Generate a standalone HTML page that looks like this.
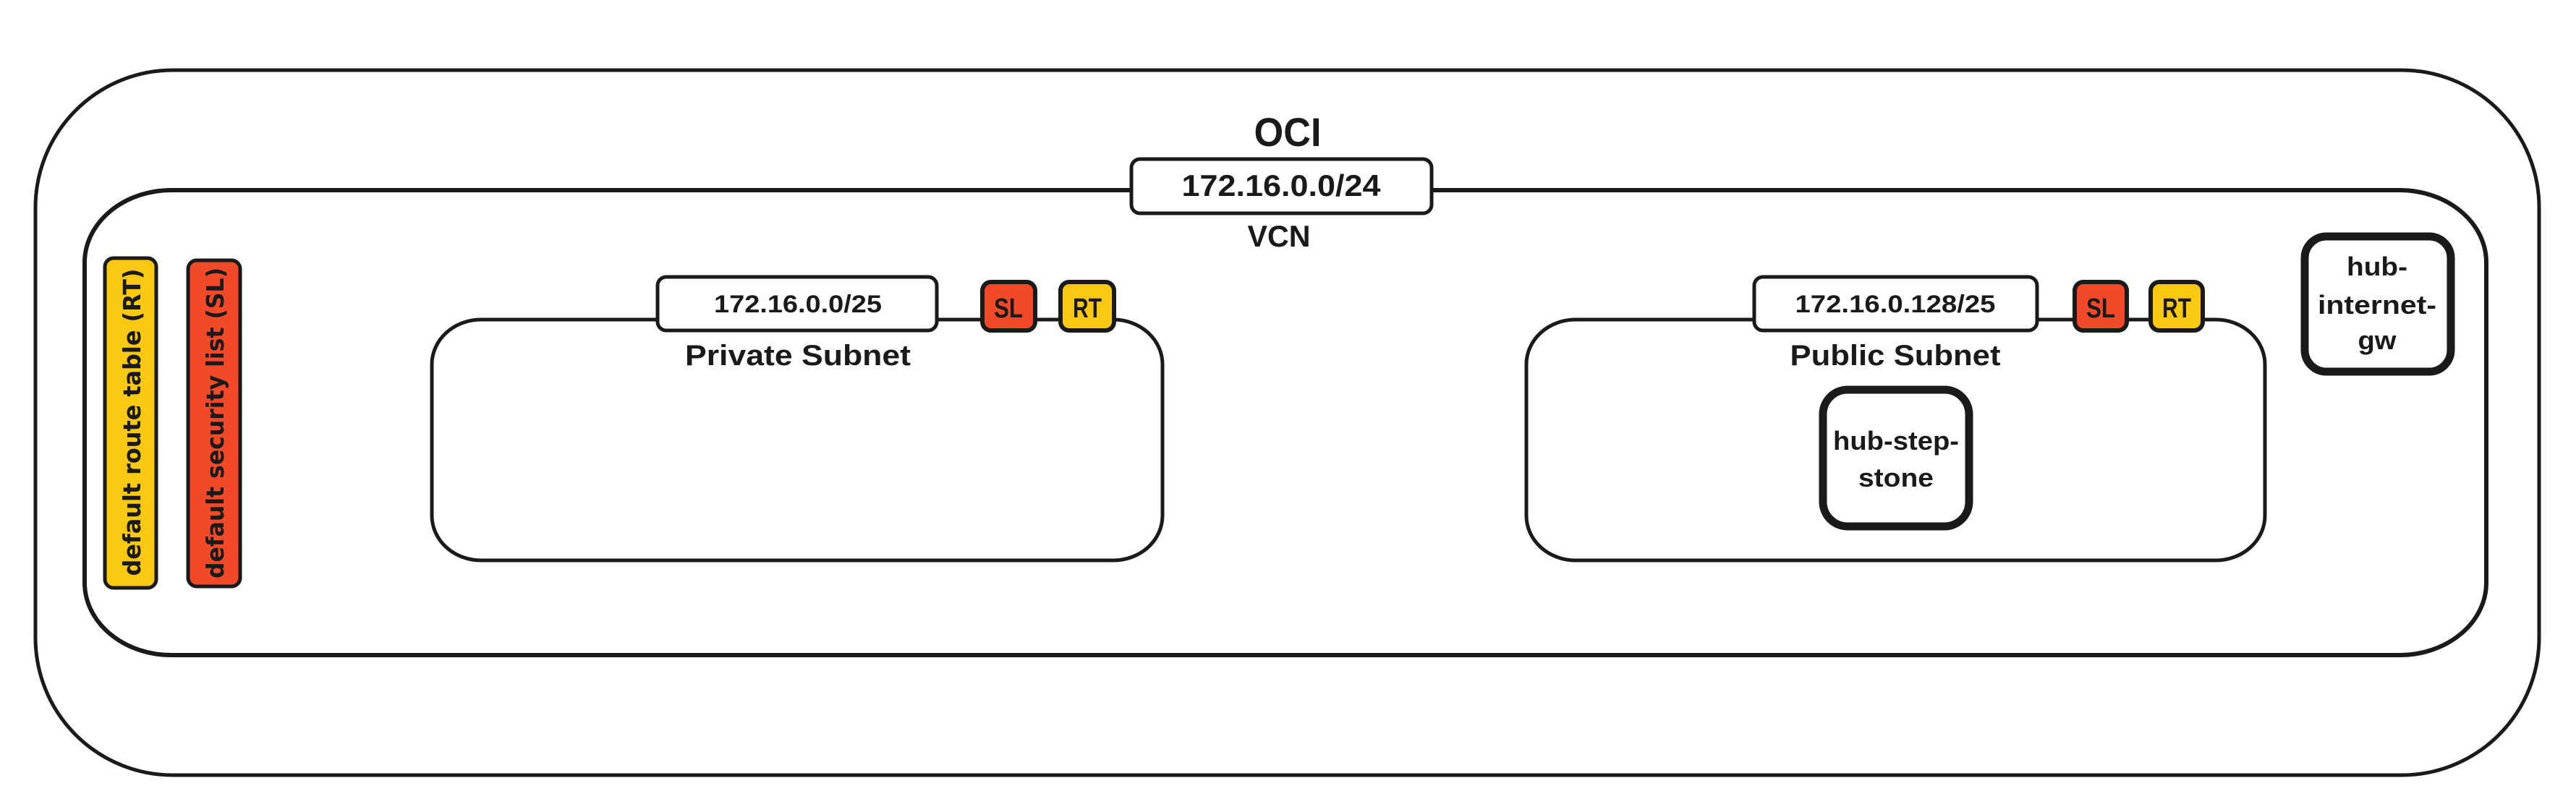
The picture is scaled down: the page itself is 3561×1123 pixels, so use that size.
<!DOCTYPE html>
<html><head><meta charset="utf-8"><style>
html,body{margin:0;padding:0;background:#fff;}
svg{display:block;}
text{font-family:"Liberation Sans",sans-serif;font-weight:bold;fill:#1a1a1a;}
</style></head><body>
<svg width="3561" height="1123" viewBox="0 0 3561 1123" xmlns="http://www.w3.org/2000/svg">
<g fill="none" stroke="#1a1a1a">
<rect x="49" y="97" width="3461" height="975" rx="190" ry="190" stroke-width="5"/>
<rect x="117" y="263" width="3320" height="643" rx="120" ry="100" stroke-width="6"/>
<rect x="597" y="442" width="1010" height="333" rx="68" ry="62" stroke-width="5"/>
<rect x="2110" y="442" width="1021" height="333" rx="68" ry="62" stroke-width="5"/>
</g>
<text x="1780" y="202" font-size="56" text-anchor="middle" textLength="93" lengthAdjust="spacingAndGlyphs">OCI</text>
<rect x="1564" y="220" width="415" height="75" rx="12" fill="#fff" stroke="#1a1a1a" stroke-width="5"/>
<text x="1771" y="271" font-size="42" text-anchor="middle" textLength="275" lengthAdjust="spacingAndGlyphs">172.16.0.0/24</text>
<text x="1768" y="341" font-size="42" text-anchor="middle" textLength="87" lengthAdjust="spacingAndGlyphs">VCN</text>

<!-- private subnet -->
<rect x="909" y="383" width="386" height="74" rx="12" fill="#fff" stroke="#1a1a1a" stroke-width="5"/>
<text x="1103" y="432" font-size="34" text-anchor="middle" textLength="232" lengthAdjust="spacingAndGlyphs">172.16.0.0/25</text>
<text x="1103" y="505" font-size="40" text-anchor="middle" textLength="312" lengthAdjust="spacingAndGlyphs">Private Subnet</text>
<rect x="1358" y="390" width="73" height="67" rx="12" fill="#F24A28" stroke="#1a1a1a" stroke-width="6"/>
<text x="1394" y="439" font-size="38" text-anchor="middle" textLength="40" lengthAdjust="spacingAndGlyphs">SL</text>
<rect x="1466" y="390" width="74" height="67" rx="12" fill="#F9C812" stroke="#1a1a1a" stroke-width="6"/>
<text x="1503" y="439" font-size="38" text-anchor="middle" textLength="40" lengthAdjust="spacingAndGlyphs">RT</text>

<!-- public subnet -->
<rect x="2425" y="383" width="391" height="74" rx="12" fill="#fff" stroke="#1a1a1a" stroke-width="5"/>
<text x="2620" y="432" font-size="34" text-anchor="middle" textLength="277" lengthAdjust="spacingAndGlyphs">172.16.0.128/25</text>
<text x="2620" y="505" font-size="40" text-anchor="middle" textLength="291" lengthAdjust="spacingAndGlyphs">Public Subnet</text>
<rect x="2868" y="390" width="72" height="67" rx="12" fill="#F24A28" stroke="#1a1a1a" stroke-width="6"/>
<text x="2904" y="439" font-size="38" text-anchor="middle" textLength="40" lengthAdjust="spacingAndGlyphs">SL</text>
<rect x="2973" y="390" width="72" height="67" rx="12" fill="#F9C812" stroke="#1a1a1a" stroke-width="6"/>
<text x="3009" y="439" font-size="38" text-anchor="middle" textLength="40" lengthAdjust="spacingAndGlyphs">RT</text>

<!-- hub-step-stone -->
<rect x="2520" y="539" width="202" height="189" rx="34" fill="#fff" stroke="#1a1a1a" stroke-width="11"/>
<text x="2621" y="622" font-size="36" text-anchor="middle" textLength="174" lengthAdjust="spacingAndGlyphs">hub-step-</text>
<text x="2621" y="673" font-size="36" text-anchor="middle" textLength="104" lengthAdjust="spacingAndGlyphs">stone</text>

<!-- hub-internet-gw -->
<rect x="3186" y="327" width="202" height="187" rx="30" fill="#fff" stroke="#1a1a1a" stroke-width="11"/>
<text x="3286" y="381" font-size="36" text-anchor="middle" textLength="84" lengthAdjust="spacingAndGlyphs">hub-</text>
<text x="3286" y="434" font-size="36" text-anchor="middle" textLength="164" lengthAdjust="spacingAndGlyphs">internet-</text>
<text x="3286" y="483" font-size="36" text-anchor="middle" textLength="53" lengthAdjust="spacingAndGlyphs">gw</text>

<!-- default RT / SL -->
<rect x="145" y="357" width="71" height="456" rx="12" fill="#F9C812" stroke="#1a1a1a" stroke-width="5"/>
<text transform="translate(194,584) rotate(-90)" font-size="33" text-anchor="middle" textLength="425" lengthAdjust="spacingAndGlyphs" style="font-family:'DejaVu Sans',sans-serif">default route table (RT)</text>
<rect x="260" y="360" width="72" height="451" rx="12" fill="#F24A28" stroke="#1a1a1a" stroke-width="5"/>
<text transform="translate(309,585) rotate(-90)" font-size="33" text-anchor="middle" textLength="430" lengthAdjust="spacingAndGlyphs" style="font-family:'DejaVu Sans',sans-serif">default security list (SL)</text>
</svg>
</body></html>
